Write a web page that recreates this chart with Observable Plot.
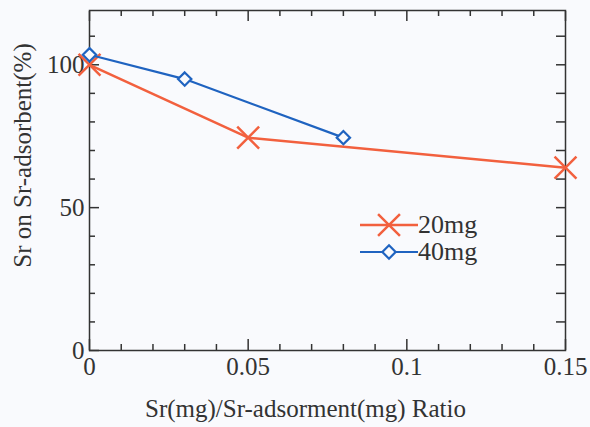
<!DOCTYPE html>
<html><head><meta charset="utf-8">
<script src="https://cdn.jsdelivr.net/npm/d3@7"></script>
<script src="https://cdn.jsdelivr.net/npm/@observablehq/plot@0.6"></script>
<style>
body{margin:0;background:#f9fafd;}
#wrap{position:relative;width:590px;height:427px;}
#wrap svg{position:absolute;left:0;top:0;}
</style></head><body><div id="wrap"></div>
<script>
const seriesNames = ["20mg", "40mg"];
const seriesColors = ["#f2603e", "#1f63c0"];
const ratio20 = [0, 0.05, 0.15];
const sorbed20 = [100, 74.5, 64];
const ratio40 = [0, 0.03, 0.08];
const sorbed40 = [103.5, 95, 74.5];
const xMajorTicks = [0, 0.05, 0.1, 0.15];
const xTickLabels = ["0", "0.05", "0.1", "0.15"];
const xMinorTicks = [0.01, 0.02, 0.03, 0.04, 0.06, 0.07, 0.08, 0.09, 0.11, 0.12, 0.13, 0.14];
const yMajorTicks = [0, 50, 100];
const yTickLabels = ["0", "50", "100"];
const yMinorTicks = [10, 20, 30, 40, 60, 70, 80, 90, 110];
const yRightTicks = [10, 20, 30, 40, 50, 60, 70, 80, 90, 100, 110];
const xLabel = "Sr(mg)/Sr-adsorment(mg) Ratio";
const yLabel = "Sr on Sr-adsorbent(%)";

const data20 = ratio20.map((r, i) => ({ratio: r, value: sorbed20[i]}));
const data40 = ratio40.map((r, i) => ({ratio: r, value: sorbed40[i]}));

const font = "'Liberation Serif', 'Times New Roman', serif";
const ink = "#333";
const bg = "#f9fafd";

const plot = Plot.plot({
  width: 590, height: 427,
  marginLeft: 89, marginRight: 25, marginTop: 10, marginBottom: 77,
  x: {domain: [0, 0.15]},
  y: {domain: [0, 119]},
  style: {fontFamily: font, fontSize: "25px", background: "transparent", color: ink},
  marks: [
    Plot.frame({stroke: ink, strokeWidth: 1.5}),
    Plot.axisX(xMajorTicks, {anchor: "bottom", tickSize: -11, text: null, label: null, stroke: ink, strokeWidth: 1.5}),
    Plot.axisX(xMinorTicks, {anchor: "bottom", tickSize: -6, text: null, label: null, stroke: ink, strokeWidth: 1.5}),
    Plot.axisX(xMajorTicks, {anchor: "top", tickSize: -10, text: null, label: null, stroke: ink, strokeWidth: 1.5}),
    Plot.axisX(xMinorTicks, {anchor: "top", tickSize: -5, text: null, label: null, stroke: ink, strokeWidth: 1.5}),
    Plot.axisY(yMajorTicks, {anchor: "left", tickSize: -10, text: null, label: null, stroke: ink, strokeWidth: 1.5}),
    Plot.axisY(yMinorTicks, {anchor: "left", tickSize: -6, text: null, label: null, stroke: ink, strokeWidth: 1.5}),
    Plot.axisY(yRightTicks, {anchor: "right", tickSize: -10, text: null, label: null, stroke: ink, strokeWidth: 1.5}),
    Plot.axisX(xMajorTicks, {anchor: "bottom", tickSize: 0, tickPadding: 7, label: null, fontSize: 25,
      tickFormat: d => xTickLabels[xMajorTicks.indexOf(d)]}),
    Plot.axisY(yMajorTicks, {anchor: "left", tickSize: 0, tickPadding: 5, label: null, fontSize: 25,
      tickFormat: d => yTickLabels[yMajorTicks.indexOf(d)]}),
    Plot.text([xLabel], {frameAnchor: "bottom", lineAnchor: "middle", textAnchor: "middle", dx: -22, dy: 58, fontSize: 25, fill: ink}),
    Plot.text([yLabel], {frameAnchor: "left", lineAnchor: "middle", textAnchor: "middle", rotate: -90, dx: -67, dy: -25, fontSize: 25, fill: ink}),
    Plot.line(data20, {x: "ratio", y: "value", stroke: seriesColors[0], strokeWidth: 2.5}),
    Plot.dot(data20, {x: "ratio", y: "value", symbol: "times", r: 10, stroke: seriesColors[0], strokeWidth: 2.5}),
    Plot.line(data40, {x: "ratio", y: "value", stroke: seriesColors[1], strokeWidth: 2.2}),
    Plot.dot(data40, {x: "ratio", y: "value", symbol: "diamond2", r: 6, stroke: seriesColors[1], strokeWidth: 2.2, fill: bg})
  ]
});
const wrap = document.getElementById("wrap");
wrap.appendChild(plot);

// legend (inside the plot area)
const leg = d3.create("svg").attr("width", 590).attr("height", 427)
  .style("pointer-events", "none").style("overflow", "visible");
const symbols = [d3.symbolTimes, d3.symbolDiamond2];
const symSizes = [Math.PI * 100, Math.PI * 36];
const rows = [225, 252];
seriesNames.forEach((name, i) => {
  const g = leg.append("g").attr("transform", `translate(0,${rows[i]})`);
  g.append("line").attr("x1", 360).attr("x2", 418).attr("y1", 0).attr("y2", 0)
    .attr("stroke", seriesColors[i]).attr("stroke-width", i === 0 ? 2.5 : 2.2);
  g.append("path").attr("transform", "translate(389,0)")
    .attr("d", d3.symbol(symbols[i], symSizes[i])())
    .attr("stroke", seriesColors[i]).attr("stroke-width", i === 0 ? 2.5 : 2.2)
    .attr("fill", i === 0 ? "none" : bg);
  g.append("text").attr("x", 418).attr("y", 8).attr("font-family", font)
    .attr("font-size", 26).attr("fill", ink).text(name);
});
wrap.appendChild(leg.node());
</script></body></html>
